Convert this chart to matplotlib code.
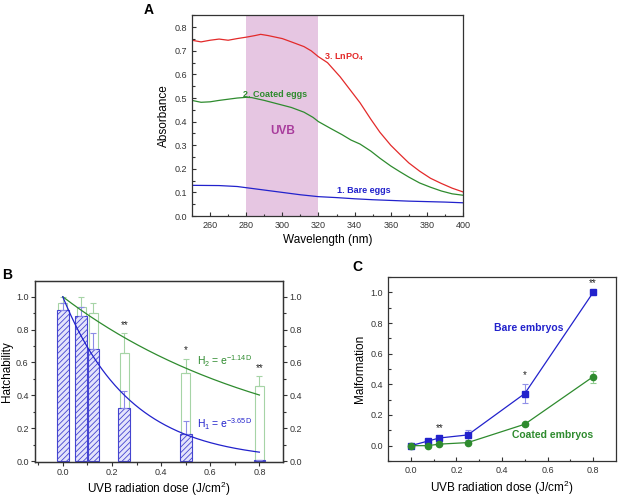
import numpy as np
import matplotlib
matplotlib.use("Agg")
import matplotlib.pyplot as plt

plt.rcParams['font.family'] = ['Liberation Sans', 'DejaVu Sans']
plt.rcParams['mathtext.default'] = 'regular'
plt.rcParams['hatch.linewidth'] = 0.6

# ---------------- Panel A data ----------------
wl_red = [250, 255, 260, 265, 270, 275, 280, 285, 288, 292, 300, 305, 312, 316, 320, 325, 332, 338, 343, 349, 354, 360, 365, 370, 376, 382, 388, 394, 400]
abs_red = [0.745, 0.738, 0.745, 0.750, 0.745, 0.752, 0.758, 0.765, 0.770, 0.765, 0.752, 0.738, 0.718, 0.700, 0.675, 0.650, 0.590, 0.530, 0.480, 0.410, 0.355, 0.300, 0.262, 0.225, 0.190, 0.160, 0.138, 0.118, 0.102]
wl_green = [250, 255, 260, 265, 270, 275, 280, 283, 290, 297, 305, 312, 317, 320, 327, 333, 338, 343, 349, 354, 360, 365, 370, 376, 382, 388, 394, 400]
abs_green = [0.490, 0.482, 0.484, 0.490, 0.495, 0.500, 0.503, 0.502, 0.490, 0.476, 0.460, 0.440, 0.418, 0.400, 0.370, 0.345, 0.322, 0.305, 0.275, 0.245, 0.212, 0.188, 0.165, 0.140, 0.122, 0.106, 0.094, 0.088]
wl_blue = [250, 265, 275, 280, 290, 300, 310, 320, 330, 340, 350, 360, 370, 380, 390, 400]
abs_blue = [0.130, 0.129, 0.125, 0.120, 0.110, 0.100, 0.090, 0.082, 0.078, 0.073, 0.069, 0.066, 0.063, 0.061, 0.059, 0.056]
uvb_band = [280, 320]

# ---------------- Panel B data ----------------
dose = [0.0, 0.075, 0.125, 0.25, 0.5, 0.8]
hatch_bare = [0.92, 0.88, 0.68, 0.325, 0.163, 0.005]
hatch_bare_err = [0.04, 0.06, 0.10, 0.10, 0.08, 0.0]
hatch_coated = [0.96, 0.94, 0.90, 0.66, 0.537, 0.456]
hatch_coated_err = [0.04, 0.06, 0.06, 0.12, 0.085, 0.06]
k_bare = 3.65
k_coated = 1.14
sig_B = ['', '', '', '**', '*', '**']

# ---------------- Panel C data ----------------
malf_bare = [0.0, 0.03, 0.05, 0.07, 0.34, 1.0]
malf_bare_err = [0.0, 0.01, 0.01, 0.03, 0.06, 0.005]
malf_coated = [0.0, 0.0, 0.01, 0.02, 0.14, 0.45]
malf_coated_err = [0.0, 0.0, 0.005, 0.005, 0.01, 0.04]
sig_C = ['', '', '**', '', '*', '**']

RED = '#e32a2a'
GREEN = '#2e8b2e'
BLUE = '#2222cc'
FRAME = '#333333'

W, H = 621, 498
fig = plt.figure(figsize=(W / 100, H / 100), dpi=100)

def ax_at(x0, y0, x1, y1):
    return fig.add_axes([x0 / W, 1 - y1 / H, (x1 - x0) / W, (y1 - y0) / H])

def style(ax, direction, pad=3.5):
    for s in ax.spines.values():
        s.set_color(FRAME)
        s.set_linewidth(0.9)
    ax.tick_params(which='both', direction=direction, labelsize=6.5, colors=FRAME, width=0.8, pad=pad)
    ax.tick_params(which='major', length=3)
    ax.tick_params(which='minor', length=1.8)

fmt = matplotlib.ticker.FormatStrFormatter('%.1f')

# ---------- A ----------
axA = ax_at(192, 15, 463, 216)
style(axA, 'in')
axA.axvspan(uvb_band[0], uvb_band[1], color='#e6c6e2', lw=0, zorder=0)
axA.plot(wl_red, abs_red, color=RED, lw=0.9)
axA.plot(wl_green, abs_green, color=GREEN, lw=0.9)
axA.plot(wl_blue, abs_blue, color=BLUE, lw=0.9)
axA.set_xlim(250, 400)
axA.set_ylim(0, 0.852)
axA.set_xticks(np.arange(260, 401, 20))
axA.set_xticks(np.arange(250, 401, 10), minor=True)
axA.set_yticks(np.arange(0, 0.81, 0.1))
axA.set_yticks(np.arange(0, 0.851, 0.05), minor=True)
axA.yaxis.set_major_formatter(fmt)
axA.set_xlabel('Wavelength (nm)', fontsize=8.5, labelpad=3)
axA.set_ylabel('Absorbance', fontsize=8.5, labelpad=3)
axA.text(323, 0.672, '3. LnPO$_4$', color=RED, fontsize=6.5, fontweight='bold', va='center')
axA.text(278.5, 0.514, '2. Coated eggs', color=GREEN, fontsize=6.5, fontweight='bold', va='center')
axA.text(330, 0.108, '1. Bare eggs', color=BLUE, fontsize=6.5, fontweight='bold', va='center')
axA.text(300, 0.36, 'UVB', color='#a83c9c', fontsize=8.5, fontweight='bold', ha='center', va='center')
fig.text(149 / W, 1 - 10 / H, 'A', fontsize=10, fontweight='bold', ha='center', va='center')

# ---------- B ----------
axB = ax_at(35, 281, 283, 462)
style(axB, 'out', pad=1.5)
axB.bar(dose, hatch_coated, width=0.038, facecolor='white', edgecolor='#a6d4a6', lw=0.8, zorder=1)
axB.errorbar(dose, hatch_coated, yerr=[np.zeros(len(dose)), hatch_coated_err], fmt='none',
             ecolor='#a6d4a6', elinewidth=0.8, capsize=2.5, capthick=0.8, zorder=1)
axB.bar(dose, hatch_bare, width=0.048, facecolor='#e4e4fb', edgecolor='#4444d0', hatch='//////', lw=0.8, zorder=2)
axB.errorbar(dose, hatch_bare, yerr=[np.zeros(len(dose)), hatch_bare_err], fmt='none',
             ecolor='#8c8ce6', elinewidth=0.8, capsize=2.5, capthick=0.8, zorder=2)
dd = np.linspace(0, max(dose), 200)
axB.plot(dd, np.exp(-k_coated * dd), color=GREEN, lw=0.9, zorder=3)
axB.plot(dd, np.exp(-k_bare * dd), color=BLUE, lw=0.9, zorder=3)
for x, h, e, s in zip(dose, hatch_coated, hatch_coated_err, sig_B):
    if s:
        axB.text(x, h + e + 0.02, s, ha='center', va='bottom', fontsize=7, color='#222222')
axB.text(0.548, 0.605, 'H$_2$ = e$^{-1.14D}$', color=GREEN, fontsize=7.5, va='center')
axB.text(0.548, 0.225, 'H$_1$ = e$^{-3.65D}$', color=BLUE, fontsize=7.5, va='center')
axB.set_xlim(-0.113, 0.896)
axB.set_ylim(-0.006, 1.096)
axB.set_xticks(np.arange(0, 0.81, 0.2))
axB.set_xticks(np.arange(-0.1, 0.9, 0.1), minor=True)
axB.set_yticks(np.arange(0, 1.01, 0.2))
axB.set_yticks(np.arange(0, 1.01, 0.1), minor=True)
axB.yaxis.set_major_formatter(fmt)
axB.xaxis.set_major_formatter(fmt)
axB.set_xlabel('UVB radiation dose (J/cm$^2$)', fontsize=8.5, labelpad=2)
axB.set_ylabel('Hatchability', fontsize=8.5, labelpad=2)
axB2 = axB.twinx()
style(axB2, 'out', pad=1.5)
axB2.set_ylim(axB.get_ylim())
axB2.set_yticks(np.arange(0, 1.01, 0.2))
axB2.set_yticks(np.arange(0, 1.01, 0.1), minor=True)
axB2.yaxis.set_major_formatter(fmt)
fig.text(7 / W, 1 - 275 / H, 'B', fontsize=10, fontweight='bold', ha='center', va='center')

# ---------- C ----------
axC = ax_at(388, 277, 616, 461)
style(axC, 'in')
axC.errorbar(dose, malf_bare, yerr=malf_bare_err, color=BLUE, ecolor='#9090e8', lw=0.9, marker='s',
             markersize=4.2, elinewidth=0.8, capsize=2.5, capthick=0.8, zorder=3)
axC.errorbar(dose, malf_coated, yerr=malf_coated_err, color=GREEN, ecolor='#90cc90', lw=0.9, marker='o',
             markersize=4.5, elinewidth=0.8, capsize=2.5, capthick=0.8, zorder=3)
for x, h, e, s in zip(dose, malf_bare, malf_bare_err, sig_C):
    if s:
        axC.text(x, h + e + 0.025, s, ha='center', va='bottom', fontsize=7, color='#222222')
axC.text(0.515, 0.77, 'Bare embryos', color=BLUE, fontsize=7.5, fontweight='bold', ha='center', va='center')
axC.text(0.62, 0.067, 'Coated embryos', color=GREEN, fontsize=7.5, fontweight='bold', ha='center', va='center')
axC.set_xlim(-0.1, 0.9)
axC.set_ylim(-0.1, 1.1)
axC.set_xticks(np.arange(0, 0.81, 0.2))
axC.set_xticks(np.arange(-0.1, 0.9, 0.1), minor=True)
axC.set_yticks(np.arange(0, 1.01, 0.2))
axC.set_yticks(np.arange(-0.1, 1.1, 0.1), minor=True)
axC.yaxis.set_major_formatter(fmt)
axC.xaxis.set_major_formatter(fmt)
axC.set_xlabel('UVB radiation dose (J/cm$^2$)', fontsize=8.5, labelpad=3)
axC.set_ylabel('Malformation', fontsize=8.5, labelpad=3)
fig.text(357 / W, 1 - 267 / H, 'C', fontsize=10, fontweight='bold', ha='center', va='center')

fig.savefig('out.png', dpi=100)
